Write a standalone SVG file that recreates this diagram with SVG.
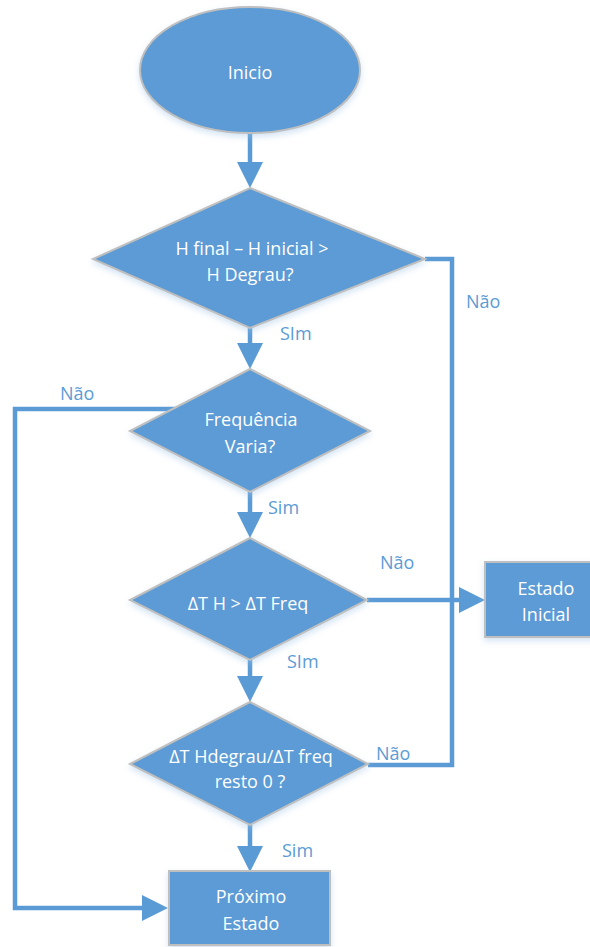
<svg xmlns="http://www.w3.org/2000/svg" width="590" height="947" viewBox="0 0 590 947">
<style>
.shape{fill:#5B9BD5;stroke:#BFBFBF;stroke-width:2;filter:url(#sh)}
.t{font-family:"Open Sans","Liberation Sans",sans-serif;font-size:18px;fill:#FFFFFF;text-anchor:middle}
.lbl{font-family:"Open Sans","Liberation Sans",sans-serif;font-size:18px;fill:#5B9BD5}
.c{fill:none;stroke:#5B9BD5;stroke-width:4.5}
.ca{fill:none;stroke:#5B9BD5;stroke-width:4.5;marker-end:url(#ah)}
</style>
<defs>
<filter id="sh" x="-20%" y="-20%" width="140%" height="150%">
<feGaussianBlur in="SourceAlpha" stdDeviation="3"/>
<feOffset dx="0" dy="3" result="b"/>
<feFlood flood-color="#9DC3E6" flood-opacity="0.45"/>
<feComposite in2="b" operator="in"/>
<feMerge><feMergeNode/><feMergeNode in="SourceGraphic"/></feMerge>
</filter>
<marker id="ah" viewBox="0 0 26 26" refX="6" refY="13" markerWidth="26" markerHeight="26" markerUnits="userSpaceOnUse" orient="auto">
<path d="M0,0 L26,13 L0,26 z" fill="#5B9BD5"/>
</marker>
</defs>

<g id="connectors">
<path class="ca" d="M250,133 L250,168"/>
<path class="ca" d="M250,328 L250,349"/>
<path class="ca" d="M250,492 L250,518"/>
<path class="ca" d="M250,660 L250,682"/>
<path class="ca" d="M250,825 L250,852"/>
<path class="c" d="M425,259 L452,259 L452,765 L368,765"/>
<path class="ca" d="M367,600 L465,600"/>
<path class="ca" d="M175,409 L15,409 L15,908 L148,908"/>
<text class="lbl" x="466" y="308">Não</text>
<text class="lbl" x="280" y="340">SIm</text>
<text class="lbl" x="60" y="400">Não</text>
<text class="lbl" x="268" y="514">Sim</text>
<text class="lbl" x="380" y="569">Não</text>
<text class="lbl" x="287" y="668">SIm</text>
<text class="lbl" x="376" y="760">Não</text>
<text class="lbl" x="282" y="857">Sim</text>
</g>

<g id="inicio">
<ellipse class="shape" cx="250" cy="70" rx="110" ry="63"/>
<text class="t" x="250" y="79">Inicio</text>
</g>

<g id="decisao1">
<polygon class="shape" points="250,188 425,259 250,328 93,259"/>
<text class="t" x="252" y="255">H final – H inicial &gt;</text>
<text class="t" x="250" y="281">H Degrau?</text>
</g>

<g id="decisao2">
<polygon class="shape" points="250,369 370,431 250,492 130,431"/>
<text class="t" x="251" y="426">Frequência</text>
<text class="t" x="250" y="453">Varia?</text>
</g>

<g id="decisao3">
<polygon class="shape" points="250,538 367,600 250,660 130,600"/>
<text class="t" x="248" y="610">ΔT H &gt; ΔT Freq</text>
</g>

<g id="decisao4">
<polygon class="shape" points="250,702 368,764 250,825 130,764"/>
<text class="t" x="251" y="763">ΔT Hdegrau/ΔT freq</text>
<text class="t" x="250" y="788">resto 0 ?</text>
</g>

<g id="estado-inicial">
<rect class="shape" x="485" y="562" width="122" height="75"/>
<text class="t" x="546" y="595">Estado</text>
<text class="t" x="546" y="621">Inicial</text>
</g>

<g id="proximo-estado">
<rect class="shape" x="169" y="871" width="161" height="74"/>
<text class="t" x="251" y="903">Próximo</text>
<text class="t" x="251" y="930">Estado</text>
</g>
</svg>
